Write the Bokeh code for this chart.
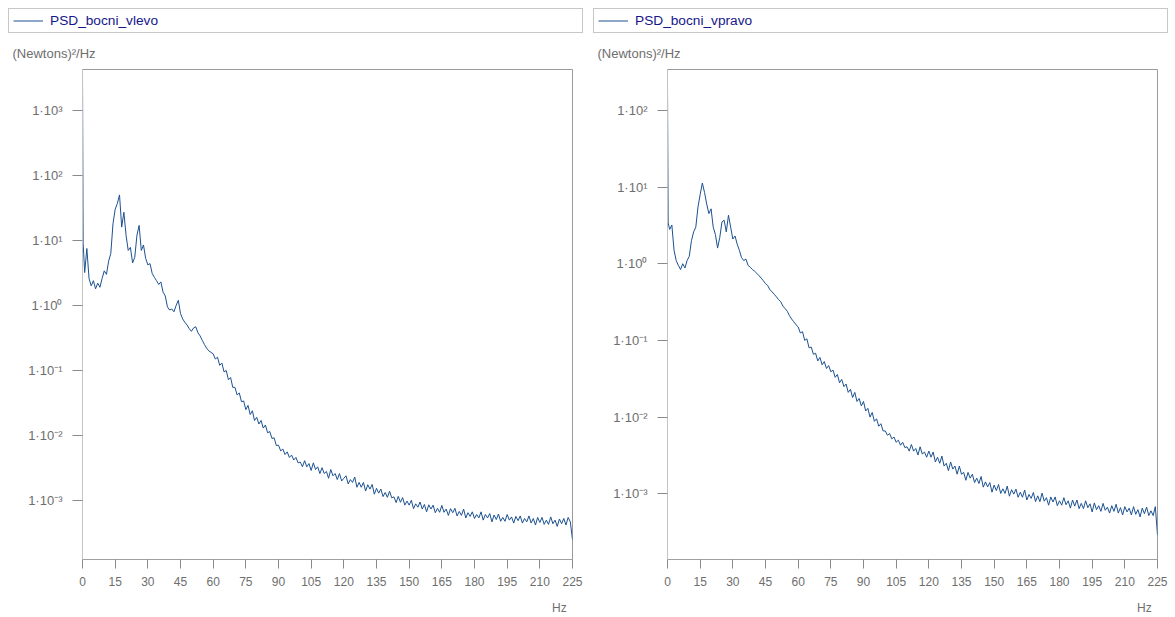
from bokeh.plotting import figure
from bokeh.layouts import row, column
from bokeh.models import Range1d, FixedTicker, Legend, LegendItem, Title, LinearAxis
from bokeh.embed import file_html
from bokeh.resources import INLINE

# ---------------- data ----------------
freq_hz = [0, 0.3] + list(range(1, 226))

psd_bocni_vlevo = [
    3400, 9.0, 3.2, 7.5, 2.6, 2.0, 2.4, 1.8, 2.2, 1.9, 2.6,          # 0..9
    3.4, 3.0, 4.8, 6.3, 18, 30, 37, 50, 16, 27,                       # 10..19
    12, 7.0, 7.8, 4.5, 5.5, 12, 17, 7.0, 8.5, 5.3,                    # 20..29
    4.2, 4.4, 3.1, 2.7, 2.4, 2.1, 2.3, 1.6, 1.4, 0.95,                # 30..39
    0.85, 0.88, 0.80, 1.0, 1.2, 0.75, 0.62, 0.55, 0.50, 0.44,         # 40..49
    0.40, 0.45, 0.47, 0.38, 0.34, 0.29, 0.25, 0.22, 0.20, 0.19,       # 50..59
    0.18, 0.15, 0.16, 0.12, 0.13, 0.095, 0.10, 0.072, 0.078, 0.055,   # 60..69
    0.055, 0.042, 0.045, 0.033, 0.034, 0.025, 0.029, 0.021, 0.024, 0.017,  # 70..79
    0.019, 0.015, 0.017, 0.013, 0.0145, 0.011, 0.0115, 0.0090, 0.0092, 0.0070,  # 80..89
    0.0071, 0.0058, 0.0062, 0.0051, 0.0056, 0.0046, 0.0050, 0.0042, 0.0046, 0.0038,  # 90..99
    0.0039, 0.0033, 0.0041, 0.0033, 0.0037, 0.0029, 0.0038, 0.0030, 0.0033, 0.0026,  # 100..109
    0.0032, 0.0026, 0.0028, 0.0022, 0.0030, 0.0024, 0.0026, 0.0021, 0.0026, 0.0020,  # 110..119
    0.0022, 0.0024, 0.0018, 0.0021, 0.0019, 0.0023, 0.0016, 0.0019, 0.0016, 0.0019,  # 120..129
    0.0014, 0.00175, 0.0015, 0.00177, 0.00125, 0.00154, 0.0013, 0.0015, 0.00115, 0.00133,  # 130..139
    0.00112, 0.00139, 0.0011, 0.00114, 0.00093, 0.00116, 0.00094, 0.00111, 0.00085, 0.00098,  # 140..149
    0.00085, 0.00101, 0.00075, 0.00089, 0.00079, 0.00095, 0.00074, 0.00087, 0.00067, 0.00086,  # 150..159
    0.00074, 0.00085, 0.00065, 0.00076, 0.00066, 0.00084, 0.00066, 0.00074, 0.00059, 0.00075,  # 160..169
    0.00065, 0.00076, 0.00058, 0.00068, 0.00059, 0.00074, 0.00054, 0.00065, 0.00057, 0.00067,  # 170..179
    0.00053, 0.00061, 0.00054, 0.00067, 0.00050, 0.00061, 0.00054, 0.00063, 0.00047, 0.00060,  # 180..189
    0.00051, 0.00062, 0.00048, 0.00055, 0.00048, 0.00061, 0.00050, 0.00056, 0.00045, 0.00057,  # 190..199
    0.00049, 0.00058, 0.00045, 0.00053, 0.00047, 0.00058, 0.00045, 0.00053, 0.00042, 0.00055,  # 200..209
    0.00046, 0.00055, 0.00043, 0.00050, 0.00043, 0.00056, 0.00044, 0.00050, 0.00040, 0.00052,  # 210..219
    0.00044, 0.00053, 0.00042, 0.00055, 0.00047, 0.00025,                                  # 220..225
]

psd_bocni_vpravo = [
    200, 3.4, 2.8, 3.2, 1.5, 1.1, 0.95, 0.84, 1.0, 0.88, 1.1,          # 0..9
    1.25, 2.0, 2.6, 3.0, 5.5, 8.0, 11.3, 8.5, 6.0, 4.5,                # 10..19
    5.2, 3.0, 2.4, 1.6, 2.2, 3.5, 3.7, 2.6, 4.3, 3.0,                  # 20..29
    2.1, 2.3, 1.8, 1.5, 1.2, 1.1, 1.15, 0.95, 0.90, 0.84,              # 30..39
    0.80, 0.75, 0.70, 0.65, 0.60, 0.55, 0.52, 0.46, 0.43, 0.40,        # 40..49
    0.37, 0.34, 0.32, 0.28, 0.26, 0.24, 0.21, 0.19, 0.175, 0.16,       # 50..59
    0.15, 0.125, 0.13, 0.10, 0.105, 0.080, 0.082, 0.066, 0.068, 0.054, # 60..69
    0.060, 0.048, 0.053, 0.043, 0.047, 0.039, 0.041, 0.033, 0.036, 0.028,  # 70..79
    0.031, 0.025, 0.027, 0.021, 0.023, 0.018, 0.021, 0.016, 0.0175, 0.014,  # 80..89
    0.016, 0.012, 0.013, 0.010, 0.0115, 0.0088, 0.0095, 0.0076, 0.0082, 0.0066,  # 90..99
    0.0066, 0.0058, 0.0061, 0.0052, 0.0055, 0.0047, 0.0050, 0.0043, 0.0047, 0.0040,  # 100..109
    0.0041, 0.0036, 0.0044, 0.0036, 0.0039, 0.0032, 0.0041, 0.0033, 0.0035, 0.0030,  # 110..119
    0.0036, 0.0030, 0.0035, 0.0026, 0.0030, 0.0025, 0.0031, 0.0023, 0.0025, 0.0020,  # 120..129
    0.0026, 0.0021, 0.0023, 0.0018, 0.0023, 0.0018, 0.0019, 0.0015, 0.0019, 0.0016,  # 130..139
    0.0018, 0.0014, 0.0016, 0.00136, 0.00168, 0.00122, 0.00143, 0.00123, 0.0014, 0.00105,  # 140..149
    0.0013, 0.0011, 0.00132, 0.00101, 0.00116, 0.00101, 0.00126, 0.00093, 0.00113, 0.00099,  # 150..159
    0.00115, 0.0009, 0.00105, 0.0009, 0.00112, 0.00083, 0.00098, 0.00087, 0.00104, 0.00079,  # 160..169
    0.00094, 0.00079, 0.00102, 0.0008, 0.00089, 0.00071, 0.00091, 0.00078, 0.00091, 0.0007,  # 170..179
    0.00081, 0.00071, 0.00089, 0.00072, 0.00081, 0.00065, 0.00083, 0.00069, 0.00083, 0.00064,  # 180..189
    0.00075, 0.00064, 0.00081, 0.00066, 0.00074, 0.00058, 0.00076, 0.00062, 0.0007, 0.00059,  # 190..199
    0.00075, 0.00061, 0.00067, 0.00056, 0.0007, 0.00059, 0.00073, 0.00056, 0.00066, 0.00053,  # 200..209
    0.00068, 0.00058, 0.00065, 0.00053, 0.00068, 0.00054, 0.00062, 0.0005, 0.00065, 0.00055,  # 210..219
    0.00067, 0.00052, 0.0006, 0.00052, 0.00068, 0.00029,                                    # 220..225
]

series_names = ["PSD_bocni_vlevo", "PSD_bocni_vpravo"]
x_ticks = [0, 15, 30, 45, 60, 75, 90, 105, 120, 135, 150, 165, 180, 195, 210, 225]
y_ticks = [1e-3, 1e-2, 1e-1, 1e0, 1e1, 1e2, 1e3]
y_tick_labels = ["1·10⁻³", "1·10⁻²", "1·10⁻¹", "1·10⁰", "1·10¹", "1·10²", "1·10³"]
y_title = "(Newtons)²/Hz"
x_title = "Hz"
x_title_at = 219     # the x-axis title sits under the right end of the axis

# ---------------- styling ----------------
FONT = "Liberation Sans"
LINE_COLOR = "#1c5190"
TEXT_GRAY = "#6e6e6e"
LEG_H = 33          # height of the strip holding the legend boxes
MAIN_H = 617 - LEG_H
FRAME_W = 490
TOP = 36
BOTTOM = 57


def make_legend_strip(name, values, width):
    # the series line sits outside this strip's visible x-range; it only supplies the legend glyph
    p = figure(width=width, height=LEG_H, x_axis_location=None, y_axis_location=None,
               x_range=Range1d(-30, -20), y_range=Range1d(0, 1),
               output_backend="svg", toolbar_location=None,
               min_border=0, outline_line_color=None)
    p.title = None
    p.grid.visible = False
    r = p.line(freq_hz, values, line_color=LINE_COLOR, line_width=1)
    legend = Legend(items=[LegendItem(label=name, renderers=[r])],
                    location="top_left", orientation="vertical",
                    padding=4, margin=8, spacing=0,
                    glyph_width=30, glyph_height=15, label_height=15,
                    label_standoff=7, label_width=528,
                    border_line_color="#8f8f8f", border_line_width=1,
                    background_fill_color="white", background_fill_alpha=1,
                    label_text_font=FONT, label_text_font_size="13.7px",
                    label_text_color="#16168a")
    p.add_layout(legend)
    return p


def make_panel(values, width, border_left, y_lo, y_hi):
    border_right = width - border_left - FRAME_W
    p = figure(width=width, height=MAIN_H,
               y_axis_type="log",
               x_range=Range1d(0, 225), y_range=Range1d(y_lo, y_hi),
               output_backend="svg", toolbar_location=None,
               min_border_left=border_left, min_border_right=border_right,
               min_border_top=TOP, min_border_bottom=BOTTOM)
    p.title = None
    p.grid.visible = False
    p.outline_line_color = "#9a9a9a"
    p.outline_line_width = 1

    p.line(freq_hz, values, line_color=LINE_COLOR, line_width=1)

    xa = p.xaxis[0]
    xa.ticker = FixedTicker(ticks=x_ticks)
    xa.axis_line_color = "#a0a0a0"
    xa.major_tick_line_color = "#8a8a8a"
    xa.major_tick_out = 9
    xa.major_tick_in = 0
    xa.minor_tick_line_color = None
    xa.major_label_standoff = 8
    xa.major_label_text_font = FONT
    xa.major_label_text_font_size = "12px"
    xa.major_label_text_color = TEXT_GRAY

    # x-axis title "Hz", right-hand end, one row below the tick labels
    xt = LinearAxis(ticker=FixedTicker(ticks=[x_title_at]),
                    major_label_overrides={x_title_at: x_title},
                    axis_line_color=None, major_tick_line_color=None,
                    minor_tick_line_color=None, major_tick_out=0, major_tick_in=0,
                    major_label_standoff=12,
                    major_label_text_font=FONT, major_label_text_font_size="12px",
                    major_label_text_color=TEXT_GRAY)
    p.add_layout(xt, "below")

    ya = p.yaxis[0]
    ya.ticker = FixedTicker(ticks=y_ticks)
    ya.major_label_overrides = {t: lab for t, lab in zip(y_ticks, y_tick_labels)}
    ya.axis_line_color = "#c4c4c4"
    ya.major_tick_line_color = "#8a8a8a"
    ya.major_tick_out = 10
    ya.major_tick_in = 0
    ya.minor_tick_line_color = None
    ya.major_label_standoff = 10
    ya.major_label_text_font = FONT
    ya.major_label_text_font_size = "13px"
    ya.major_label_text_color = TEXT_GRAY

    p.add_layout(Title(text=y_title, align="left", offset=-70,
                       text_font=FONT, text_font_size="13px", text_font_style="normal",
                       text_color=TEXT_GRAY, standoff=18), "above")
    return p


leg_left = make_legend_strip(series_names[0], psd_bocni_vlevo, 585)
leg_right = make_legend_strip(series_names[1], psd_bocni_vpravo, 590)
p_left = make_panel(psd_bocni_vlevo, 588, 82, 1.24e-4, 4.24e3)
p_right = make_panel(psd_bocni_vpravo, 587, 79, 1.39e-4, 3.41e2)

layout = column(row(leg_left, leg_right, spacing=0), row(p_left, p_right, spacing=0), spacing=0)

with open("out.html", "w") as f:
    f.write(file_html(layout, INLINE))
